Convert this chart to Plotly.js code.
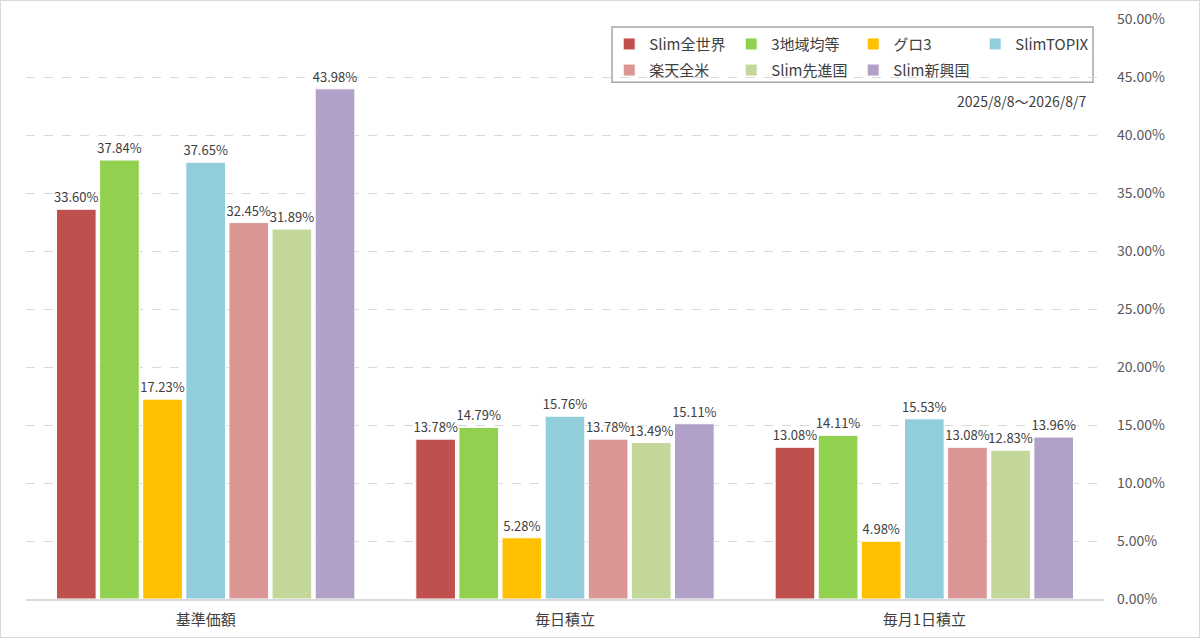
<!DOCTYPE html>
<html>
<head>
<meta charset="utf-8">
<script src="https://cdn.plot.ly/plotly-3.0.1.min.js"></script>
<style>
  body { margin: 0; background: #fff; }
  #chart { width: 1198px; height: 636px; border: 1px solid #d9d9d9; }
</style>
</head>
<body>
<div id="chart"></div>
<script>
        // categories and series, values in %
        const categories = ["基準価額", "毎日積立", "毎月1日積立"];
        const seriesNames = ["Slim全世界", "3地域均等", "グロ3", "SlimTOPIX", "楽天全米", "Slim先進国", "Slim新興国"];
        const slimAll = [33.60, 13.78, 13.08];
        const threeRegion = [37.84, 14.79, 14.11];
        const guro3 = [17.23, 5.28, 4.98];
        const slimTopix = [37.65, 15.76, 15.53];
        const rakutenUS = [32.45, 13.78, 13.08];
        const slimDeveloped = [31.89, 13.49, 12.83];
        const slimEmerging = [43.98, 15.11, 13.96];
        const periodLabel = "2025/8/8～2026/8/7";

        const seriesValues = [slimAll, threeRegion, guro3, slimTopix, rakutenUS, slimDeveloped, slimEmerging];
        const colors = ["#C0504D", "#92D050", "#FFC000", "#92CDDC", "#DA9694", "#C4D79B", "#B1A0C7"];

        const fontFamily = '"Noto Sans CJK JP", sans-serif';

        let traces = seriesNames.map((name, i) => ({
            type: 'bar',
            name: name,
            x: categories,
            y: seriesValues[i].map(v => v / 100),
            marker: { color: colors[i], line: { color: '#ffffff', width: 1 } },
            texttemplate: '%{y:.2%}',
            textposition: 'outside',
            constraintext: 'none',
            cliponaxis: false,
            textfont: { family: fontFamily, size: 13, color: '#404040' },
            legend: i < 4 ? 'legend' : 'legend2',
            hoverinfo: 'name+y'
        }));

        const legendStyle = {
            orientation: 'h',
            xanchor: 'left',
            yanchor: 'top',
            entrywidth: 77,
            bgcolor: 'rgba(0,0,0,0)',
            font: { family: fontFamily, size: 15, color: '#404040' },
            itemwidth: 30,
            tracegroupgap: 0
        };

        const layout = {
            width: 1198,
            height: 636,
            margin: { l: 25, r: 95, t: 18, b: 38 },
            paper_bgcolor: '#ffffff',
            plot_bgcolor: '#ffffff',
            bargap: 0.16,
            bargroupgap: 0.08,
            showlegend: true,
            legend: Object.assign({ x: 0.541, y: 0.985 }, legendStyle),
            legend2: Object.assign({ x: 0.541, y: 0.94 }, legendStyle),
            xaxis: {
                type: 'category',
                showline: true,
                linecolor: '#d9d9d9',
                linewidth: 2,
                ticks: '',
                ticklabelstandoff: 6,
                tickfont: { family: fontFamily, size: 15, color: '#404040' },
                fixedrange: true
            },
            yaxis: {
                side: 'right',
                range: [0, 0.5],
                dtick: 0.05,
                tickformat: '.2%',
                showgrid: true,
                gridcolor: '#d9d9d9',
                griddash: 'dash',
                zeroline: false,
                ticks: '',
                ticklabelstandoff: 12,
                tickfont: { family: fontFamily, size: 14, color: '#595959' },
                fixedrange: true
            },
            shapes: [{
                type: 'rect',
                xref: 'paper', yref: 'paper',
                x0: 0.5436, x1: 0.9898, y0: 0.986, y1: 0.891,
                line: { color: '#a6a6a6', width: 1.5 },
                fillcolor: 'rgba(0,0,0,0)',
                layer: 'below'
            }],
            annotations: [{
                xref: 'paper', yref: 'paper',
                x: 0.985, y: 0.858,
                xanchor: 'right', yanchor: 'middle',
                text: periodLabel,
                showarrow: false,
                font: { family: fontFamily, size: 14, color: '#404040' }
            }]
        };

        Plotly.newPlot('chart', traces, layout, { displayModeBar: false, staticPlot: true });
</script>
</body>
</html>
